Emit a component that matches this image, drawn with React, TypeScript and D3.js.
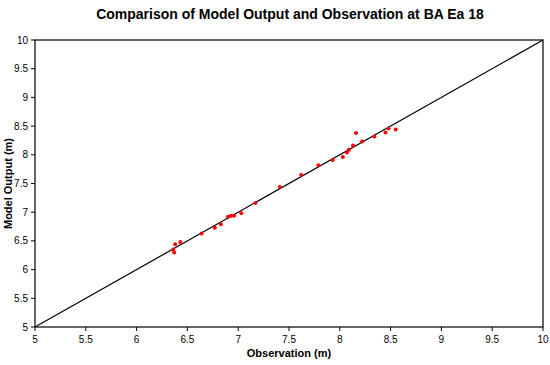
import * as d3 from 'd3';

const observed = [6.37, 6.36, 6.38, 6.43, 6.64, 6.77, 6.83, 6.9, 6.93, 6.96, 7.03, 7.17,
  7.41, 7.62, 7.79, 7.93, 8.03, 8.07, 8.09, 8.13, 8.16, 8.22, 8.34, 8.45, 8.48, 8.55];
const modeled = [6.3, 6.35, 6.44, 6.48, 6.63, 6.73, 6.79, 6.92, 6.94, 6.94, 6.98, 7.16,
  7.44, 7.65, 7.82, 7.91, 7.96, 8.04, 8.09, 8.16, 8.38, 8.23, 8.32, 8.39, 8.46, 8.44];
const ticks = [5, 5.5, 6, 6.5, 7, 7.5, 8, 8.5, 9, 9.5, 10];

const W = 550, H = 365;
const margin = { top: 40, right: 7, bottom: 38, left: 35 };

export default function App() {
  const x = d3.scaleLinear().domain([5, 10]).range([margin.left, W - margin.right]);
  const y = d3.scaleLinear().domain([5, 10]).range([H - margin.bottom, margin.top]);
  const line = d3.line<number>().x(d => x(d)).y(d => y(d));
  const font = 'Arial, "Liberation Sans", sans-serif';

  return (
    <svg width={W} height={H} style={{ position: 'absolute', left: 0, top: 0 }} fontFamily={font}>
      <rect width={W} height={H} fill="white" />
      <text x={W / 2 + 15} y={19} textAnchor="middle" fontSize={14} fontWeight="bold">
        Comparison of Model Output and Observation at BA Ea 18
      </text>
      <rect x={x(5)} y={y(10)} width={x(10) - x(5)} height={y(5) - y(10)} fill="none" stroke="#000" strokeWidth={1.2} />
      <path d={line([5, 10]) || ''} stroke="#000" strokeWidth={1.2} fill="none" />
      {ticks.map(t => (
        <g key={'x' + t}>
          <line x1={x(t)} x2={x(t)} y1={y(5)} y2={y(5) + 4} stroke="#000" />
          <text x={x(t)} y={y(5) + 16} textAnchor="middle" fontSize={10}>{t}</text>
        </g>
      ))}
      {ticks.map(t => (
        <g key={'y' + t}>
          <line x1={x(5) - 4} x2={x(5)} y1={y(t)} y2={y(t)} stroke="#000" />
          <text x={x(5) - 7} y={y(t) + 3.5} textAnchor="end" fontSize={10}>{t}</text>
        </g>
      ))}
      {observed.map((o, i) => (
        <circle key={i} cx={x(o)} cy={y(modeled[i])} r={2} fill="#ff0000" />
      ))}
      <text x={(x(5) + x(10)) / 2} y={357} textAnchor="middle" fontSize={11} fontWeight="bold">Observation (m)</text>
      <text transform={`translate(12,${(y(5) + y(10)) / 2}) rotate(-90)`} textAnchor="middle" fontSize={11} fontWeight="bold">Model Output (m)</text>
    </svg>
  );
}
